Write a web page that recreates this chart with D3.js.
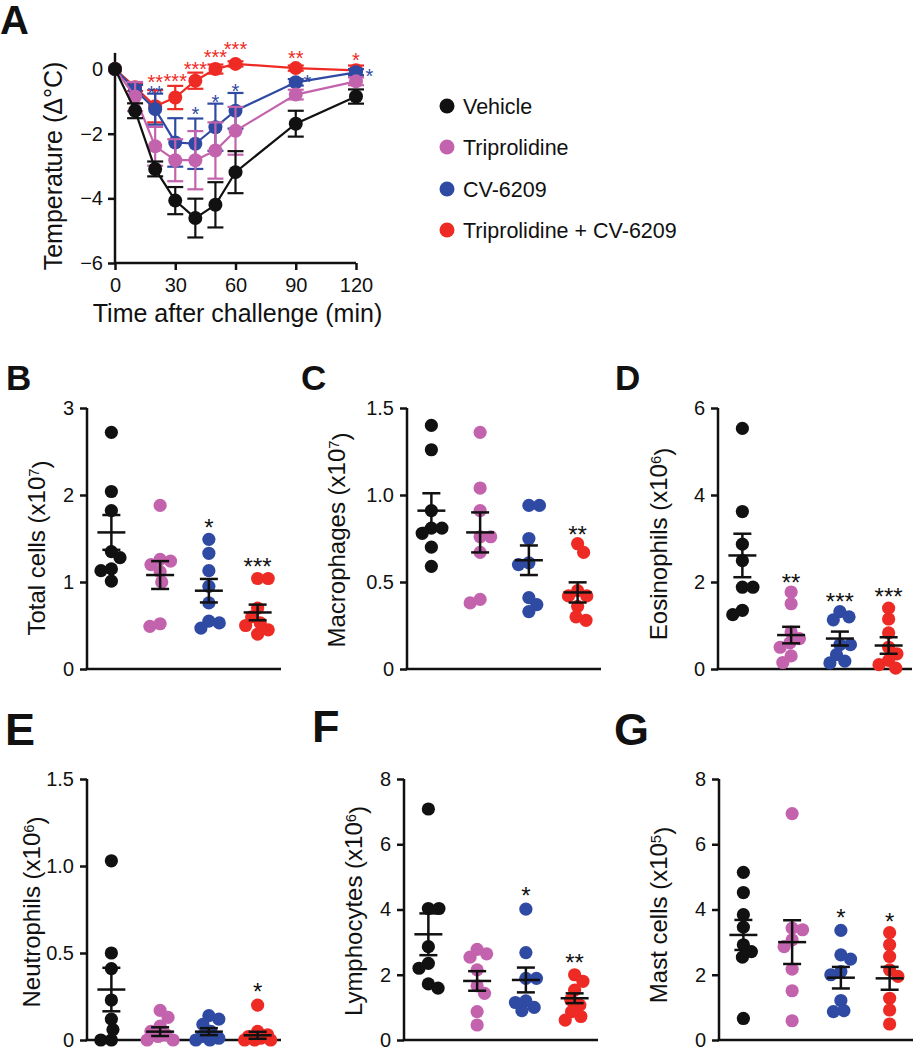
<!DOCTYPE html>
<html>
<head>
<meta charset="utf-8">
<script src="https://cdn.jsdelivr.net/npm/d3@7"></script>
<style>
  html, body { margin: 0; padding: 0; background: #fff; }
  svg { display: block; font-family: "Liberation Sans", Arial, Helvetica, sans-serif; }
</style>
</head>
<body>
<script>
// ---------------- DATA ----------------
const groups = ["Vehicle", "Triprolidine", "CV-6209", "Triprolidine + CV-6209"];
const groupColors = ["#111111", "#c463ad", "#2f4aa3", "#ee2a24"];

// Panel A: temperature time course
const times = [0, 10, 20, 30, 40, 50, 60, 90, 120];
const vehicleTemp = [0, -1.29, -3.09, -4.07, -4.61, -4.20, -3.19, -1.69, -0.85];
const vehicleErr  = [0, 0.23, 0.23, 0.42, 0.60, 0.70, 0.65, 0.40, 0.22];
const triproTemp  = [0, -0.85, -2.39, -2.82, -2.82, -2.52, -1.91, -0.79, -0.38];
const triproErr   = [0, 0.45, 0.60, 0.65, 0.90, 0.87, 0.74, 0.15, 0.12];
const cvTemp      = [0, -0.64, -1.24, -2.27, -2.31, -1.80, -1.29, -0.41, -0.10];
const cvErr       = [0, 0.15, 0.48, 0.75, 0.78, 0.73, 0.55, 0.10, 0.10];
const comboTemp   = [0, -0.56, -1.15, -0.88, -0.36, 0.00, 0.16, 0.03, -0.04];
const comboErr    = [0, 0.12, 0.50, 0.36, 0.25, 0.14, 0.08, 0.08, 0.15];
const tempTicks = [0, -2, -4, -6];
const timeTicks = [0, 30, 60, 90, 120];
// significance marks in panel A (time, label, y value)
const comboStarTime  = [20, 30, 40, 50, 60, 90, 120];
const comboStarLabel = ["**", "***", "***", "***", "***", "**", "*"];
const comboStarY     = [-0.27, -0.23, 0.13, 0.49, 0.75, 0.46, 0.42];
const cvStarTime  = [20, 40, 50, 60, 95.8, 126.7];
const cvStarLabel = ["**", "*", "*", "*", "*", "*"];
const cvStarY     = [-0.62, -1.26, -0.90, -0.56, -0.26, -0.07];

// Panel B: total cells (x10^7)
const totalVeh   = [2.72, 2.04, 1.82, 1.35, 1.28, 1.15, 1.13, 1.01];
const totalTri   = [1.88, 1.26, 1.24, 1.20, 1.12, 1.00, 0.52, 0.49];
const totalCV    = [1.49, 1.33, 1.13, 0.95, 0.76, 0.55, 0.53, 0.47];
const totalCombo = [1.04, 1.04, 0.70, 0.60, 0.53, 0.50, 0.45, 0.40];
const totalMean  = [1.57, 1.08, 0.90, 0.65];
const totalSem   = [0.20, 0.16, 0.135, 0.09];
const totalStars = ["", "", "*", "***"];
const totalStarY = [0, 0, 1.68, 1.23];
const totalTicks = [0, 1, 2, 3];
const totalTickLabels = ["0", "1", "2", "3"];

// Panel C: macrophages (x10^7)
const macVeh   = [1.40, 1.26, 0.91, 0.81, 0.81, 0.78, 0.70, 0.59];
const macTri   = [1.36, 1.04, 0.91, 0.76, 0.76, 0.67, 0.40, 0.38];
const macCV    = [0.94, 0.94, 0.75, 0.61, 0.60, 0.41, 0.37, 0.33];
const macCombo = [0.72, 0.67, 0.45, 0.42, 0.42, 0.36, 0.30, 0.28];
const macMean  = [0.91, 0.785, 0.625, 0.44];
const macSem   = [0.10, 0.115, 0.085, 0.058];
const macStars = ["", "", "", "**"];
const macStarY = [0, 0, 0, 0.80];
const macTicks = [0, 0.5, 1.0, 1.5];
const macTickLabels = ["0", "0.5", "1.0", "1.5"];

// Panel D: eosinophils (x10^6)
const eosVeh   = [5.53, 3.62, 2.87, 2.49, 1.88, 1.88, 1.35, 1.25];
const eosTri   = [1.77, 1.50, 0.85, 0.70, 0.60, 0.50, 0.30, 0.15];
const eosCV    = [1.32, 1.20, 1.13, 0.56, 0.56, 0.33, 0.18, 0.14];
const eosCombo = [1.40, 1.15, 0.83, 0.50, 0.35, 0.20, 0.10, 0.02];
const eosMean  = [2.61, 0.78, 0.70, 0.54];
const eosSem   = [0.50, 0.19, 0.16, 0.19];
const eosStars = ["", "**", "***", "***"];
const eosStarY = [0, 2.11, 1.67, 1.78];
const eosTicks = [0, 2, 4, 6];
const eosTickLabels = ["0", "2", "4", "6"];

// Panel E: neutrophils (x10^6)
const neuVeh   = [1.03, 0.50, 0.41, 0.23, 0.12, 0.06, 0.00, 0.00];
const neuTri   = [0.17, 0.13, 0.08, 0.05, 0.03, 0.02, 0.00, 0.00];
const neuCV    = [0.14, 0.12, 0.09, 0.05, 0.02, 0.01, 0.00, 0.00];
const neuCombo = [0.20, 0.05, 0.03, 0.02, 0.01, 0.00, 0.00, 0.00];
const neuMean  = [0.29, 0.048, 0.048, 0.027];
const neuSem   = [0.125, 0.025, 0.02, 0.02];
const neuStars = ["", "", "", "*"];
const neuStarY = [0, 0, 0, 0.307];
const neuTicks = [0, 0.5, 1.0, 1.5];
const neuTickLabels = ["0", "0.5", "1.0", "1.5"];

// Panel F: lymphocytes (x10^6)
const lymVeh   = [7.08, 4.03, 4.03, 2.86, 2.35, 2.20, 1.72, 1.59];
const lymTri   = [2.78, 2.64, 2.54, 2.15, 1.66, 1.43, 0.87, 0.46];
const lymCV    = [4.01, 2.68, 1.89, 1.89, 1.20, 1.15, 1.00, 0.90];
const lymCombo = [2.00, 1.80, 1.53, 1.23, 1.07, 0.87, 0.72, 0.61];
const lymMean  = [3.24, 1.81, 1.84, 1.28];
const lymSem   = [0.64, 0.30, 0.38, 0.15];
const lymStars = ["", "", "*", "**"];
const lymStarY = [0, 0, 4.57, 2.53];
const lymTicks = [0, 2, 4, 6, 8];
const lymTickLabels = ["0", "2", "4", "6", "8"];

// Panel G: mast cells (x10^5)
const mastVeh   = [5.14, 4.52, 3.84, 3.46, 2.92, 2.71, 2.54, 0.66];
const mastTri   = [6.94, 3.43, 3.38, 3.07, 2.86, 2.17, 1.51, 0.59];
const mastCV    = [3.36, 2.61, 2.48, 2.10, 2.00, 1.21, 0.90, 0.87];
const mastCombo = [3.29, 2.92, 2.56, 2.15, 1.95, 1.28, 0.92, 0.49];
const mastMean  = [3.22, 3.00, 1.91, 1.89];
const mastSem   = [0.46, 0.67, 0.33, 0.35];
const mastStars = ["", "", "*", "*"];
const mastStarY = [0, 0, 3.92, 3.79];
const mastTicks = [0, 2, 4, 6, 8];
const mastTickLabels = ["0", "2", "4", "6", "8"];

// ---------------- DRAWING ----------------
const W = 913, H = 1050;
const svg = d3.select("body").append("svg").attr("width", W).attr("height", H);
const AXW = 2.5;
const TICKFS = 20;
const STARFS = 24;

function starBaseline(yc, fs) { return yc + 0.56 * fs; }

function panelLetter(txt, x, y, fs) {
  svg.append("text").attr("x", x).attr("y", y)
    .attr("font-size", fs).attr("font-weight", "bold").attr("fill", "#111")
    .text(txt);
}

function yLabel(x, y, main, sup, fs) {
  const t = svg.append("text")
    .attr("transform", `translate(${x},${y}) rotate(-90)`)
    .attr("text-anchor", "middle").attr("font-size", fs).attr("fill", "#111");
  t.append("tspan").text(main);
  if (sup) {
    t.append("tspan").attr("dy", "-0.42em").attr("font-size", "0.62em").text(sup);
    t.append("tspan").attr("dy", "0.42em").text(")");
  }
}

// ---- Panel A ----
(function () {
  const x = d3.scaleLinear().domain([0, 120]).range([115, 356]);
  const y = d3.scaleLinear().domain([-6, 0.5]).range([263, 52.9]);
  const g = svg.append("g");

  const yAxis = d3.axisLeft(y).tickValues(tempTicks).tickSize(7).tickPadding(5)
    .tickFormat(d3.format("d"));
  const ga = g.append("g").attr("transform", `translate(115,0)`).call(yAxis);
  const xAxis = d3.axisBottom(x).tickValues(timeTicks).tickSize(7).tickPadding(8);
  const gx = g.append("g").attr("transform", `translate(0,263)`).call(xAxis);
  [ga, gx].forEach(a => {
    a.select(".domain").attr("stroke", "#111").attr("stroke-width", AXW);
    a.selectAll(".tick line").attr("stroke", "#111").attr("stroke-width", AXW);
    a.selectAll(".tick text").attr("font-size", TICKFS).attr("fill", "#111")
      .attr("font-family", "Liberation Sans, Arial, sans-serif");
  });
  ga.select(".domain").attr("d", `M0,${y(0.5)}V${y(-6)}`);
  gx.select(".domain").attr("d", `M${x(0)},0H${x(120)}`);

  const series = [
    { v: comboTemp, e: comboErr, c: groupColors[3] },
    { v: cvTemp, e: cvErr, c: groupColors[2] },
    { v: triproTemp, e: triproErr, c: groupColors[1] },
    { v: vehicleTemp, e: vehicleErr, c: groupColors[0] }
  ];
  const line = d3.line().x((d, i) => x(times[i])).y(d => y(d));
  series.forEach(s => {
    const sg = g.append("g");
    sg.append("path").attr("d", line(s.v)).attr("fill", "none")
      .attr("stroke", s.c).attr("stroke-width", 2.2);
    s.v.forEach((v, i) => {
      if (s.e[i] <= 0) return;
      const cx = x(times[i]), y1 = y(v + s.e[i]), y2 = y(v - s.e[i]);
      sg.append("line").attr("x1", cx).attr("x2", cx).attr("y1", y1).attr("y2", y2)
        .attr("stroke", s.c).attr("stroke-width", 2.2);
      [y1, y2].forEach(yy => sg.append("line").attr("x1", cx - 8).attr("x2", cx + 8)
        .attr("y1", yy).attr("y2", yy).attr("stroke", s.c).attr("stroke-width", 2.2));
    });
    sg.selectAll("circle").data(s.v).join("circle")
      .attr("cx", (d, i) => x(times[i])).attr("cy", d => y(d)).attr("r", 7)
      .attr("fill", s.c);
  });

  const AFS = 20;
  comboStarTime.forEach((t, i) => {
    g.append("text").attr("x", x(t)).attr("y", starBaseline(y(comboStarY[i]), AFS))
      .attr("text-anchor", "middle").attr("font-size", AFS).attr("fill", groupColors[3])
      .text(comboStarLabel[i]);
  });
  cvStarTime.forEach((t, i) => {
    g.append("text").attr("x", x(t)).attr("y", starBaseline(y(cvStarY[i]), AFS))
      .attr("text-anchor", "middle").attr("font-size", AFS).attr("fill", groupColors[2])
      .text(cvStarLabel[i]);
  });

  svg.append("text").attr("x", (115 + 356) / 2 + 2).attr("y", 322)
    .attr("text-anchor", "middle").attr("font-size", 25).attr("fill", "#111")
    .text("Time after challenge (min)");
  yLabel(62, 166, "Temperature (Δ°C)", null, 25);

  const lg = svg.append("g");
  const legY = [106, 147, 189, 230];
  groups.forEach((name, i) => {
    lg.append("circle").attr("cx", 447).attr("cy", legY[i]).attr("r", 7.5).attr("fill", groupColors[i]);
    lg.append("text").attr("x", 463).attr("y", legY[i] + 7.5).attr("font-size", 21.5)
      .attr("fill", "#111").text(name);
  });
})();

// ---- Dot plots: beeswarm layout computed from the values ----
function dodge(ys, r) {
  const D = 2 * r * 0.8;
  const MAXOFF = 13;
  const order = ys.map((y, i) => i).sort((a, b) => ys[a] - ys[b]);
  const xs = new Array(ys.length).fill(0);
  const placed = [];
  let flip = 1;
  order.forEach(i => {
    const yy = ys[i];
    const ints = [];
    placed.forEach(p => {
      const dy = Math.abs(p.y - yy);
      if (dy < D) {
        const dx = Math.sqrt(D * D - dy * dy);
        ints.push([p.x - dx, p.x + dx]);
      }
    });
    const cands = [0];
    ints.forEach(iv => { cands.push(iv[0], iv[1]); });
    const ok = c => ints.every(iv => c <= iv[0] + 1e-6 || c >= iv[1] - 1e-6);
    let best = null;
    cands.filter(ok).forEach(c => {
      if (best === null || Math.abs(c) < Math.abs(best) - 1e-6 ||
          (Math.abs(Math.abs(c) - Math.abs(best)) < 1e-6 && c * flip > 0)) best = c;
    });
    if (Math.abs(best) > MAXOFF) {
      // crowded: pick the spot inside the band that is farthest from its neighbours
      let bestScore = -1;
      for (let c = -MAXOFF; c <= MAXOFF + 1e-6; c += 1) {
        let mind = Infinity;
        placed.forEach(p => { mind = Math.min(mind, Math.hypot(p.x - c, p.y - yy)); });
        const score = mind - Math.abs(c) * 0.01;
        if (score > bestScore) { bestScore = score; best = c; }
      }
    }
    if (best !== 0) flip = -flip;
    xs[i] = best;
    placed.push({ x: best, y: yy });
  });
  return xs;
}

function dotPanel(opt) {
  const { axisX, top, bottom, domainMax, ticks, tickLabels, sets, means, sems, stars, starY } = opt;
  const g = svg.append("g");
  const y = d3.scaleLinear().domain([0, domainMax]).range([bottom, top]);
  const x = d3.scaleBand().domain(groups).range([axisX, axisX + 195]);
  const cx = gname => x(gname) + x.bandwidth() / 2;

  const yAxis = d3.axisLeft(y).tickValues(ticks).tickSize(7).tickPadding(6)
    .tickFormat((d, i) => tickLabels[i]);
  const ga = g.append("g").attr("transform", `translate(${axisX},0)`).call(yAxis);
  ga.select(".domain").attr("d", `M0,${top}V${bottom}`).attr("stroke", "#111").attr("stroke-width", AXW);
  ga.selectAll(".tick line").attr("stroke", "#111").attr("stroke-width", AXW);
  ga.selectAll(".tick text").attr("font-size", TICKFS).attr("fill", "#111")
    .attr("font-family", "Liberation Sans, Arial, sans-serif");
  g.append("line").attr("x1", axisX - AXW / 2).attr("x2", Math.min(axisX + 194, W))
    .attr("y1", bottom).attr("y2", bottom).attr("stroke", "#111").attr("stroke-width", AXW);

  const r = 6.6;
  sets.forEach((vals, gi) => {
    const ys = vals.map(v => y(v));
    const offs = dodge(ys, r);
    g.append("g").selectAll("circle").data(vals).join("circle")
      .attr("cx", (d, i) => cx(groups[gi]) + offs[i])
      .attr("cy", d => y(d)).attr("r", r).attr("fill", groupColors[gi]);
  });
  groups.forEach((gn, gi) => {
    const c = cx(gn);
    const ym = y(means[gi]), y1 = y(means[gi] + sems[gi]), y2 = y(Math.max(0, means[gi] - sems[gi]));
    const eg = g.append("g").attr("stroke", "#111").attr("stroke-width", 2.5);
    eg.append("line").attr("x1", c - 14).attr("x2", c + 14).attr("y1", ym).attr("y2", ym);
    eg.append("line").attr("x1", c).attr("x2", c).attr("y1", y1).attr("y2", y2);
    eg.append("line").attr("x1", c - 9).attr("x2", c + 9).attr("y1", y1).attr("y2", y1);
    eg.append("line").attr("x1", c - 9).attr("x2", c + 9).attr("y1", y2).attr("y2", y2);
    if (stars[gi]) {
      g.append("text").attr("x", c).attr("y", starBaseline(y(starY[gi]), STARFS))
        .attr("text-anchor", "middle").attr("font-size", STARFS).attr("fill", "#111")
        .text(stars[gi]);
    }
  });
}

const row1 = { top: 408, bottom: 669 };
const row2 = { top: 779, bottom: 1040 };

dotPanel({ axisX: 87, ...row1, domainMax: 3, ticks: totalTicks, tickLabels: totalTickLabels,
  sets: [totalVeh, totalTri, totalCV, totalCombo], means: totalMean, sems: totalSem,
  stars: totalStars, starY: totalStarY });
dotPanel({ axisX: 407, ...row1, domainMax: 1.5, ticks: macTicks, tickLabels: macTickLabels,
  sets: [macVeh, macTri, macCV, macCombo], means: macMean, sems: macSem,
  stars: macStars, starY: macStarY });
dotPanel({ axisX: 718, ...row1, domainMax: 6, ticks: eosTicks, tickLabels: eosTickLabels,
  sets: [eosVeh, eosTri, eosCV, eosCombo], means: eosMean, sems: eosSem,
  stars: eosStars, starY: eosStarY });
dotPanel({ axisX: 87, ...row2, domainMax: 1.5, ticks: neuTicks, tickLabels: neuTickLabels,
  sets: [neuVeh, neuTri, neuCV, neuCombo], means: neuMean, sems: neuSem,
  stars: neuStars, starY: neuStarY });
dotPanel({ axisX: 404, ...row2, domainMax: 8, ticks: lymTicks, tickLabels: lymTickLabels,
  sets: [lymVeh, lymTri, lymCV, lymCombo], means: lymMean, sems: lymSem,
  stars: lymStars, starY: lymStarY });
dotPanel({ axisX: 719, ...row2, domainMax: 8, ticks: mastTicks, tickLabels: mastTickLabels,
  sets: [mastVeh, mastTri, mastCV, mastCombo], means: mastMean, sems: mastSem,
  stars: mastStars, starY: mastStarY });

yLabel(45, 548, "Total cells (x10", "7", 24);
yLabel(345, 540, "Macrophages (x10", "7", 24);
yLabel(667, 544, "Eosinophils (x10", "6", 24);
yLabel(40, 912, "Neutrophils (x10", "6", 24);
yLabel(362, 911, "Lymphocytes (x10", "6", 24);
yLabel(667, 915, "Mast cells (x10", "5", 24);

panelLetter("A", 0, 34, 40);
panelLetter("B", 6, 390, 35);
panelLetter("C", 301, 390, 35);
panelLetter("D", 615, 390, 35);
panelLetter("E", 5, 745, 45);
panelLetter("F", 312, 742, 45);
panelLetter("G", 614, 745, 45);
</script>
</body>
</html>
